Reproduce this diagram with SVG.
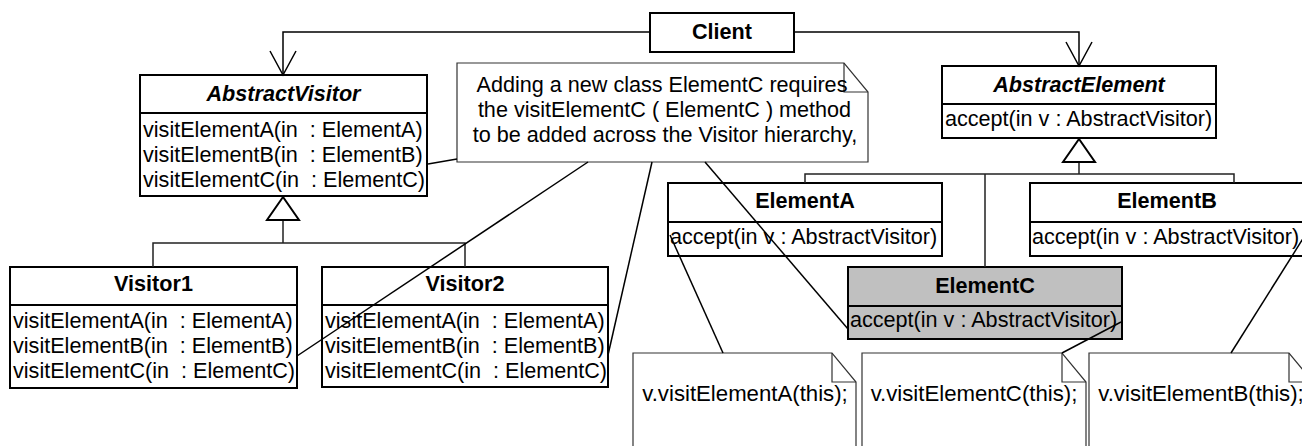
<svg xmlns="http://www.w3.org/2000/svg" width="1302" height="446" viewBox="0 0 1302 446" xml:space="preserve">
<style>
text{font-family:"Liberation Sans",Arial,sans-serif;font-size:21.6px;fill:#000;white-space:pre}
.b{font-weight:bold;text-anchor:middle}
.bi{font-weight:bold;font-style:italic;text-anchor:middle}
.m{text-anchor:middle}
.n{text-anchor:middle;font-size:22.2px}
.box{fill:#fff;stroke:#000;stroke-width:2}
.gray{fill:#c0c0c0;stroke:#000;stroke-width:2}
.div{stroke:#000;stroke-width:2}
.note{fill:#fff;stroke:#333;stroke-width:1.2}
.fold{fill:none;stroke:#333;stroke-width:1.2}
.c{fill:none;stroke:#000;stroke-width:1.5}
.g{fill:none;stroke:#222;stroke-width:1.5}
.tri{fill:#fff;stroke:#000;stroke-width:2}
</style>

<g id="Client">
<rect class="box" x="650" y="13" width="144" height="39"/>
<text class="b" x="722" y="39">Client</text>
</g>

<g id="AbstractVisitor">
<rect class="box" x="140" y="75" width="287" height="121"/>
<line class="div" x1="140" y1="113" x2="427" y2="113"/>
<text class="bi" x="283.5" y="101">AbstractVisitor</text>
<text x="143" y="137">visitElementA(in  : ElementA)</text>
<text x="143" y="162">visitElementB(in  : ElementB)</text>
<text x="143" y="187">visitElementC(in  : ElementC)</text>
</g>

<g id="Visitor1">
<rect class="box" x="10" y="267" width="287" height="121"/>
<line class="div" x1="10" y1="305" x2="297" y2="305"/>
<text class="b" x="153.5" y="291">Visitor1</text>
<text x="13" y="328">visitElementA(in  : ElementA)</text>
<text x="13" y="353">visitElementB(in  : ElementB)</text>
<text x="13" y="378">visitElementC(in  : ElementC)</text>
</g>

<g id="Visitor2">
<rect class="box" x="322" y="267" width="286" height="120"/>
<line class="div" x1="322" y1="305" x2="608" y2="305"/>
<text class="b" x="465" y="291">Visitor2</text>
<text x="325" y="328">visitElementA(in  : ElementA)</text>
<text x="325" y="353">visitElementB(in  : ElementB)</text>
<text x="325" y="378">visitElementC(in  : ElementC)</text>
</g>

<g id="AbstractElement">
<rect class="box" x="942" y="66" width="274" height="72"/>
<line class="div" x1="942" y1="104" x2="1216" y2="104"/>
<text class="bi" x="1079" y="92">AbstractElement</text>
<text x="945" y="126">accept(in v : AbstractVisitor)</text>
</g>

<g id="ElementA">
<rect class="box" x="668" y="183" width="274" height="73"/>
<line class="div" x1="668" y1="222" x2="942" y2="222"/>
<text class="b" x="805" y="208">ElementA</text>
<text x="670" y="244">accept(in v : AbstractVisitor)</text>
</g>

<g id="ElementB">
<rect class="box" x="1030" y="183" width="274" height="73"/>
<line class="div" x1="1030" y1="222" x2="1304" y2="222"/>
<text class="b" x="1167" y="208">ElementB</text>
<text x="1032" y="244">accept(in v : AbstractVisitor)</text>
</g>

<g id="ElementC">
<rect class="gray" x="848" y="267" width="274" height="72"/>
<line class="div" x1="848" y1="306" x2="1122" y2="306"/>
<text class="b" x="985" y="293">ElementC</text>
<text x="850" y="327">accept(in v : AbstractVisitor)</text>
</g>

<g id="NoteMain">
<path class="note" d="M457,63 H844 L868,92 V162 H457 Z"/>
<path class="fold" d="M844,63 V92 H868"/>
<text class="m" x="662" y="92">Adding a new class ElementC requires</text>
<text class="m" x="664.5" y="117">the visitElementC ( ElementC ) method</text>
<text class="m" x="665" y="142">to be added across the Visitor hierarchy,</text>
</g>

<g id="NoteA">
<path class="note" d="M633,450 V353 H832 L856,382 V450"/>
<path class="fold" d="M832,353 V382 H856"/>
<text class="n" x="745" y="401">v.visitElementA(this);</text>
</g>

<g id="NoteC">
<path class="note" d="M862,450 V353 H1062 L1086,382 V450"/>
<path class="fold" d="M1062,353 V382 H1086"/>
<text class="n" x="974" y="401">v.visitElementC(this);</text>
</g>

<g id="NoteB">
<path class="note" d="M1089,450 V353 H1289 L1313,382 V450"/>
<path class="fold" d="M1289,353 V382 H1313"/>
<text class="n" x="1201" y="401">v.visitElementB(this);</text>
</g>

<g id="connectors">
<path class="c" d="M650,32 H283 V75"/>
<path class="c" d="M270,51 L283,75 L296,51"/>
<path class="c" d="M794,32 H1079 V66"/>
<path class="c" d="M1066,42 L1079,66 L1092,42"/>
<path class="g" d="M283,220 V243 M153,267 V243 H465 V267"/>
<polygon class="tri" points="283,197 267,220 299,220"/>
<path class="g" d="M1079,162 V174 M805,183 V174 H1234 V183 M985,174 V267"/>
<polygon class="tri" points="1079,139 1063,162 1095,162"/>
<line class="c" x1="457" y1="159" x2="428" y2="164"/>
<line class="c" x1="588" y1="162" x2="297" y2="356"/>
<line class="c" x1="652" y1="162" x2="608" y2="355"/>
<line class="c" x1="705" y1="162" x2="848" y2="329"/>
<line class="c" x1="723" y1="353" x2="670" y2="235"/>
<line class="c" x1="1062" y1="353" x2="1121" y2="322"/>
<line class="c" x1="1231" y1="353" x2="1304" y2="237"/>
</g>
</svg>
